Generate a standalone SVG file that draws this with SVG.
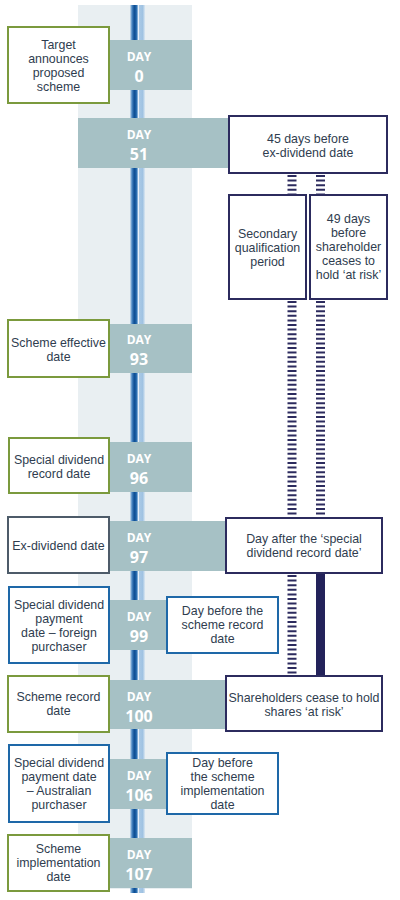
<svg xmlns="http://www.w3.org/2000/svg" width="400" height="900" viewBox="0 0 400 900">
<defs>
<linearGradient id="lineGrad" x1="130" y1="0" x2="145" y2="0" gradientUnits="userSpaceOnUse">
<stop offset="0" stop-color="#d4e3ef"/>
<stop offset="0.13" stop-color="#4a88c4"/>
<stop offset="0.28" stop-color="#0e4d92"/>
<stop offset="0.42" stop-color="#1b62a8"/>
<stop offset="0.5" stop-color="#7aa8d4"/>
<stop offset="0.56" stop-color="#eef4fa"/>
<stop offset="0.63" stop-color="#a9c9e6"/>
<stop offset="0.85" stop-color="#9fc2e2"/>
<stop offset="1" stop-color="#dce8f2"/>
</linearGradient>
</defs>
<style>
.band{fill:#e9eff2}
.bar{fill:#a6c1c5}
.day{font-family:"Open Sans","Noto Sans",sans-serif;font-weight:bold;fill:#ffffff;text-anchor:middle}
.dl{font-size:12px}
.dn{font-size:16px}
.box{fill:#ffffff;stroke-width:2}
.green{stroke:#7b9a3d}
.blue{stroke:#1e68a8}
.grey{stroke:#4d5b69}
.navy{stroke:#2c2b5e}
.t{font-family:"Liberation Sans",Arial,sans-serif;font-size:12.4px;fill:#2f3d4f;text-anchor:middle}
.dash{stroke:#2c2b5e;stroke-width:9;stroke-dasharray:2 2.6;fill:none}
.solid{stroke:#23225a;stroke-width:9;fill:none}
</style>
<rect class="band" x="78" y="5" width="114" height="884"/>
<rect x="130" y="5" width="15" height="888" fill="url(#lineGrad)"/>

<g id="connectors">
<line class="dash" x1="292" y1="175" x2="292" y2="194"/>
<line class="dash" x1="320.5" y1="175" x2="320.5" y2="194"/>
<line class="dash" x1="292" y1="301" x2="292" y2="517"/>
<line class="dash" x1="320.5" y1="301" x2="320.5" y2="517"/>
<line class="dash" x1="292" y1="575" x2="292" y2="675"/>
<line class="solid" x1="320.5" y1="574" x2="320.5" y2="676"/>
</g>

<g id="day0"><rect class="bar" x="110" y="40" width="82" height="50"/><text class="day" x="139" y="61"><tspan class="dl">DAY</tspan><tspan class="dn" x="139" dy="21">0</tspan></text></g>
<g id="day51"><rect class="bar" x="78" y="118" width="151" height="50"/><text class="day" x="139" y="139"><tspan class="dl">DAY</tspan><tspan class="dn" x="139" dy="21">51</tspan></text></g>
<g id="day93"><rect class="bar" x="110" y="324" width="82" height="49"/><text class="day" x="139" y="344"><tspan class="dl">DAY</tspan><tspan class="dn" x="139" dy="21">93</tspan></text></g>
<g id="day96"><rect class="bar" x="110" y="442" width="82" height="50"/><text class="day" x="139" y="463"><tspan class="dl">DAY</tspan><tspan class="dn" x="139" dy="21">96</tspan></text></g>
<g id="day97"><rect class="bar" x="110" y="521" width="116" height="50"/><text class="day" x="139" y="542"><tspan class="dl">DAY</tspan><tspan class="dn" x="139" dy="21">97</tspan></text></g>
<g id="day99"><rect class="bar" x="110" y="600" width="57" height="50"/><text class="day" x="139" y="621"><tspan class="dl">DAY</tspan><tspan class="dn" x="139" dy="21">99</tspan></text></g>
<g id="day100"><rect class="bar" x="110" y="680" width="116" height="49"/><text class="day" x="139" y="701"><tspan class="dl">DAY</tspan><tspan class="dn" x="139" dy="21">100</tspan></text></g>
<g id="day106"><rect class="bar" x="110" y="759" width="57" height="50"/><text class="day" x="139" y="780"><tspan class="dl">DAY</tspan><tspan class="dn" x="139" dy="21">106</tspan></text></g>
<g id="day107"><rect class="bar" x="110" y="838" width="82" height="50"/><text class="day" x="139" y="859"><tspan class="dl">DAY</tspan><tspan class="dn" x="139" dy="21">107</tspan></text></g>

<g id="n-target"><rect class="box green" x="8" y="27" width="101" height="76"/>
<text class="t" x="58.5" y="49">Target<tspan x="58.5" dy="14">announces</tspan><tspan x="58.5" dy="14">proposed</tspan><tspan x="58.5" dy="14">scheme</tspan></text></g>
<g id="n-effective"><rect class="box green" x="8" y="320" width="101" height="57"/>
<text class="t" x="58.5" y="347">Scheme effective<tspan x="58.5" dy="14">date</tspan></text></g>
<g id="n-sdrecord"><rect class="box green" x="9" y="438" width="100" height="55"/>
<text class="t" x="59" y="464">Special dividend<tspan x="59" dy="14">record date</tspan></text></g>
<g id="n-exdiv"><rect class="box grey" x="8" y="517" width="101" height="56"/>
<text class="t" x="58.5" y="550">Ex-dividend date</text></g>
<g id="n-foreign"><rect class="box blue" x="9" y="587" width="100" height="76"/>
<text class="t" x="59" y="609">Special dividend<tspan x="59" dy="14">payment</tspan><tspan x="59" dy="14">date – foreign</tspan><tspan x="59" dy="14">purchaser</tspan></text></g>
<g id="n-record"><rect class="box green" x="8" y="676" width="101" height="56"/>
<text class="t" x="58.5" y="701">Scheme record<tspan x="58.5" dy="14">date</tspan></text></g>
<g id="n-aus"><rect class="box blue" x="9" y="745" width="100" height="77"/>
<text class="t" x="59" y="767">Special dividend<tspan x="59" dy="14">payment date</tspan><tspan x="59" dy="14">– Australian</tspan><tspan x="59" dy="14">purchaser</tspan></text></g>
<g id="n-impl"><rect class="box green" x="8" y="835" width="101" height="56"/>
<text class="t" x="58.5" y="853">Scheme<tspan x="58.5" dy="14">implementation</tspan><tspan x="58.5" dy="14">date</tspan></text></g>

<g id="r-45"><rect class="box navy" x="229" y="116" width="158" height="57"/>
<text class="t" x="308" y="143">45 days before<tspan x="308" dy="14">ex-dividend date</tspan></text></g>
<g id="r-secondary"><rect class="box navy" x="229" y="195" width="77" height="104"/>
<text class="t" x="267.5" y="238">Secondary<tspan x="267.5" dy="14">qualification</tspan><tspan x="267.5" dy="14">period</tspan></text></g>
<g id="r-49"><rect class="box navy" x="310" y="195" width="77" height="104"/>
<text class="t" x="348.5" y="223">49 days<tspan x="348.5" dy="14">before</tspan><tspan x="348.5" dy="14">shareholder</tspan><tspan x="348.5" dy="14">ceases to</tspan><tspan x="348.5" dy="14">hold ‘at risk’</tspan></text></g>
<g id="r-after"><rect class="box navy" x="226" y="518" width="156" height="55"/>
<text class="t" x="304" y="543">Day after the ‘special<tspan x="304" dy="14">dividend record date’</tspan></text></g>
<g id="r-before-record"><rect class="box blue" x="167" y="597" width="111" height="56"/>
<text class="t" x="222.5" y="615">Day before the<tspan x="222.5" dy="14">scheme record</tspan><tspan x="222.5" dy="14">date</tspan></text></g>
<g id="r-cease"><rect class="box navy" x="226" y="676" width="156" height="55"/>
<text class="t" x="304" y="702">Shareholders cease to hold<tspan x="304" dy="14">shares ‘at risk’</tspan></text></g>
<g id="r-before-impl"><rect class="box blue" x="167" y="753" width="111" height="61"/>
<text class="t" x="222.5" y="767">Day before<tspan x="222.5" dy="14">the scheme</tspan><tspan x="222.5" dy="14">implementation</tspan><tspan x="222.5" dy="14">date</tspan></text></g>
</svg>
